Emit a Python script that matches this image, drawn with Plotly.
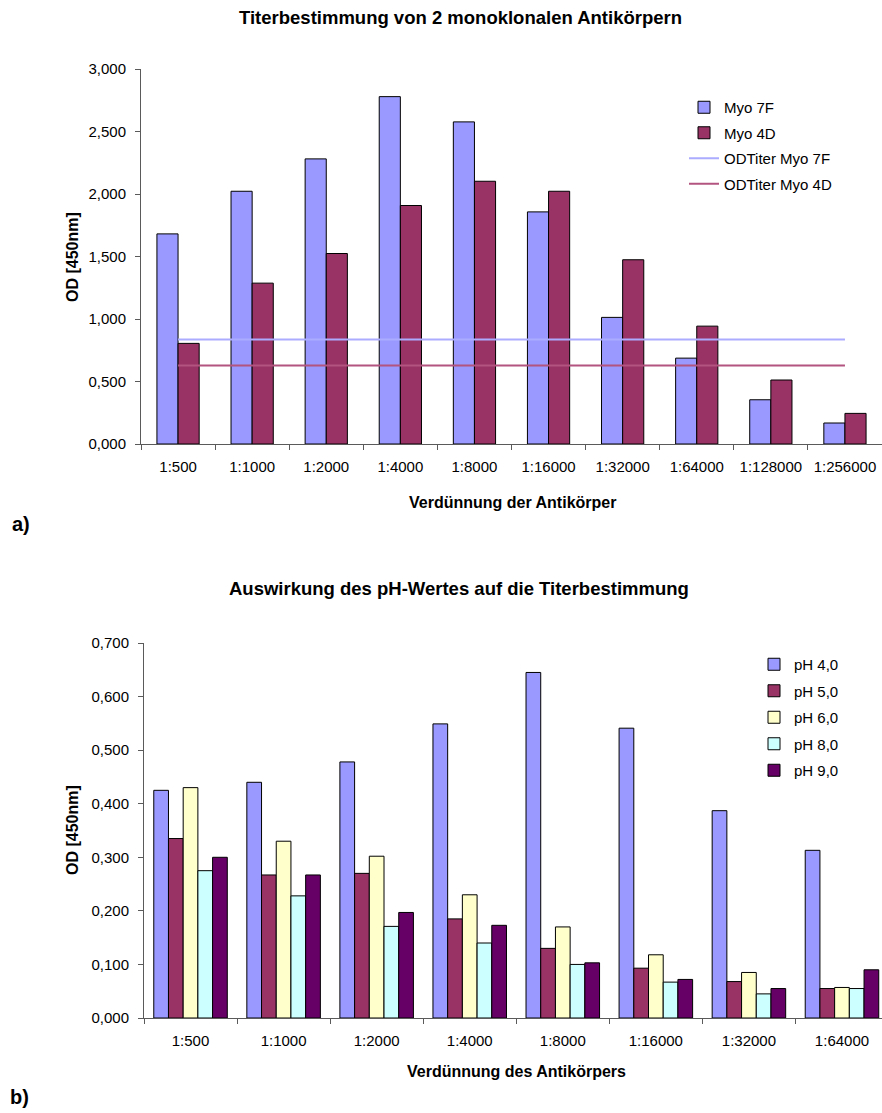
import plotly.graph_objects as go

# --- a) titer of two monoclonal antibodies ---------------------------------
dilutions_a = ["1:500", "1:1000", "1:2000", "1:4000", "1:8000", "1:16000",
               "1:32000", "1:64000", "1:128000", "1:256000"]
myo_7f = [1.681, 2.022, 2.281, 2.779, 2.577, 1.857, 1.013, 0.687, 0.354, 0.168]
myo_4d = [0.805, 1.287, 1.524, 1.908, 2.102, 2.022, 1.474, 0.943, 0.512, 0.245]
od_titer_7f = [0.837, 0.837, 0.837, 0.837, 0.837, 0.837, 0.837, 0.837, 0.837, 0.837]
od_titer_4d = [0.629, 0.629, 0.629, 0.629, 0.629, 0.629, 0.629, 0.629, 0.629, 0.629]

# --- b) effect of pH on the titer -----------------------------------------
dilutions_b = ["1:500", "1:1000", "1:2000", "1:4000", "1:8000", "1:16000",
               "1:32000", "1:64000"]
ph_labels = ["pH 4,0", "pH 5,0", "pH 6,0", "pH 8,0", "pH 9,0"]
ph_4 = [0.425, 0.440, 0.478, 0.549, 0.645, 0.541, 0.387, 0.313]
ph_5 = [0.335, 0.267, 0.270, 0.185, 0.130, 0.093, 0.068, 0.055]
ph_6 = [0.430, 0.330, 0.302, 0.230, 0.170, 0.118, 0.085, 0.057]
ph_8 = [0.275, 0.228, 0.171, 0.140, 0.100, 0.067, 0.045, 0.055]
ph_9 = [0.300, 0.267, 0.197, 0.173, 0.103, 0.072, 0.055, 0.090]

FONT = "Arial, 'Liberation Sans', sans-serif"
W, H = 882, 1113
BAR_LINE = dict(color="#000000", width=1)
AXIS_COLOR = "#5a5a5a"
BAR_W_A = 0.285  # width of one bar in the two-bar groups (category units)

fig = go.Figure()

fig.add_trace(go.Bar(x=dilutions_a, y=myo_7f, name="Myo 7F",
                     marker=dict(color="#9999FF", line=BAR_LINE),
                     width=BAR_W_A, offset=-BAR_W_A,
                     xaxis="x", yaxis="y", legend="legend", legendgroup="a1"))
fig.add_trace(go.Bar(x=dilutions_a, y=myo_4d, name="Myo 4D",
                     marker=dict(color="#993366", line=BAR_LINE),
                     width=BAR_W_A, offset=0,
                     xaxis="x", yaxis="y", legend="legend", legendgroup="a2"))
fig.add_trace(go.Scatter(x=dilutions_a, y=od_titer_7f, name="ODTiter Myo 7F",
                         mode="lines", line=dict(color="#ABABFF", width=2),
                         xaxis="x", yaxis="y", legend="legend", legendgroup="a3"))
fig.add_trace(go.Scatter(x=dilutions_a, y=od_titer_4d, name="ODTiter Myo 4D",
                         mode="lines", line=dict(color="#B2547F", width=2),
                         xaxis="x", yaxis="y", legend="legend", legendgroup="a4"))

ph_colors = ["#9999FF", "#993366", "#FFFFCC", "#CCFFFF", "#660066"]
for i, (label, vals, col) in enumerate(zip(ph_labels, [ph_4, ph_5, ph_6, ph_8, ph_9], ph_colors)):
    fig.add_trace(go.Bar(x=dilutions_b, y=vals, name=label,
                         marker=dict(color=col, line=BAR_LINE),
                         xaxis="x2", yaxis="y2", legend="legend2",
                         legendgroup="b%d" % i))


def px_x(p):
    return p / W


def px_y(p):
    return 1 - p / H


axis_common = dict(showgrid=False, zeroline=False, showline=True,
                   linecolor=AXIS_COLOR, linewidth=1, ticks="outside",
                   ticklen=5, tickcolor=AXIS_COLOR, tickwidth=1,
                   tickfont=dict(family=FONT, size=15, color="#000000"),
                   automargin=False)
x_common = dict(type="category", tickson="boundaries", ticklabelstandoff=9,
                **axis_common)
y_common = dict(tickformat=".3f", ticklabelstandoff=6, **axis_common)

fig.update_layout(
    width=W, height=H,
    margin=dict(l=0, r=0, t=0, b=0, autoexpand=False),
    paper_bgcolor="white", plot_bgcolor="white",
    separators=",.",
    barmode="group",
    bargap=0.21,
    bargroupgap=0.0,
    showlegend=True,
    font=dict(family=FONT, size=15, color="#000000"),
    xaxis=dict(domain=[px_x(141), 1.0], anchor="y", range=[-0.5, 9.5], **x_common),
    yaxis=dict(domain=[px_y(444), px_y(69)], anchor="x", range=[0, 3.0],
               dtick=0.5, **y_common),
    xaxis2=dict(domain=[px_x(144), 1.0], anchor="y2", range=[-0.5, 7.43], **x_common),
    yaxis2=dict(domain=[px_y(1018), px_y(643)], anchor="x2", range=[0, 0.7],
                dtick=0.1, **y_common),
    legend=dict(x=px_x(684), y=px_y(91), xanchor="left", yanchor="top",
                bgcolor="rgba(0,0,0,0)", borderwidth=0,
                font=dict(family=FONT, size=15), tracegroupgap=3,
                itemwidth=30),
    legend2=dict(x=px_x(754), y=px_y(648), xanchor="left", yanchor="top",
                 bgcolor="rgba(0,0,0,0)", borderwidth=0,
                 font=dict(family=FONT, size=15), tracegroupgap=4,
                 itemwidth=30),
)

annotations = [
    dict(text="<b>Titerbestimmung von 2 monoklonalen Antikörpern</b>",
         x=px_x(461), y=px_y(18), font=dict(size=18.5)),
    dict(text="<b>Verdünnung der Antikörper</b>",
         x=px_x(512), y=px_y(502), font=dict(size=16)),
    dict(text="<b>OD [450nm]</b>", x=px_x(72), y=px_y(257),
         textangle=-90, font=dict(size=16)),
    dict(text="<b>a)</b>", x=px_x(21), y=px_y(524), font=dict(size=20)),
    dict(text="<b>Auswirkung des pH-Wertes auf die Titerbestimmung</b>",
         x=px_x(459), y=px_y(588), font=dict(size=18.5)),
    dict(text="<b>Verdünnung des Antikörpers</b>",
         x=px_x(516), y=px_y(1071), font=dict(size=16)),
    dict(text="<b>OD [450nm]</b>", x=px_x(72), y=px_y(830),
         textangle=-90, font=dict(size=16)),
    dict(text="<b>b)</b>", x=px_x(19), y=px_y(1097), font=dict(size=20)),
]
for a in annotations:
    a.update(xref="paper", yref="paper", xanchor="center", yanchor="middle",
             showarrow=False)
    a["font"].update(family=FONT, color="#000000")
fig.update_layout(annotations=annotations)

fig.write_html("out.html")
